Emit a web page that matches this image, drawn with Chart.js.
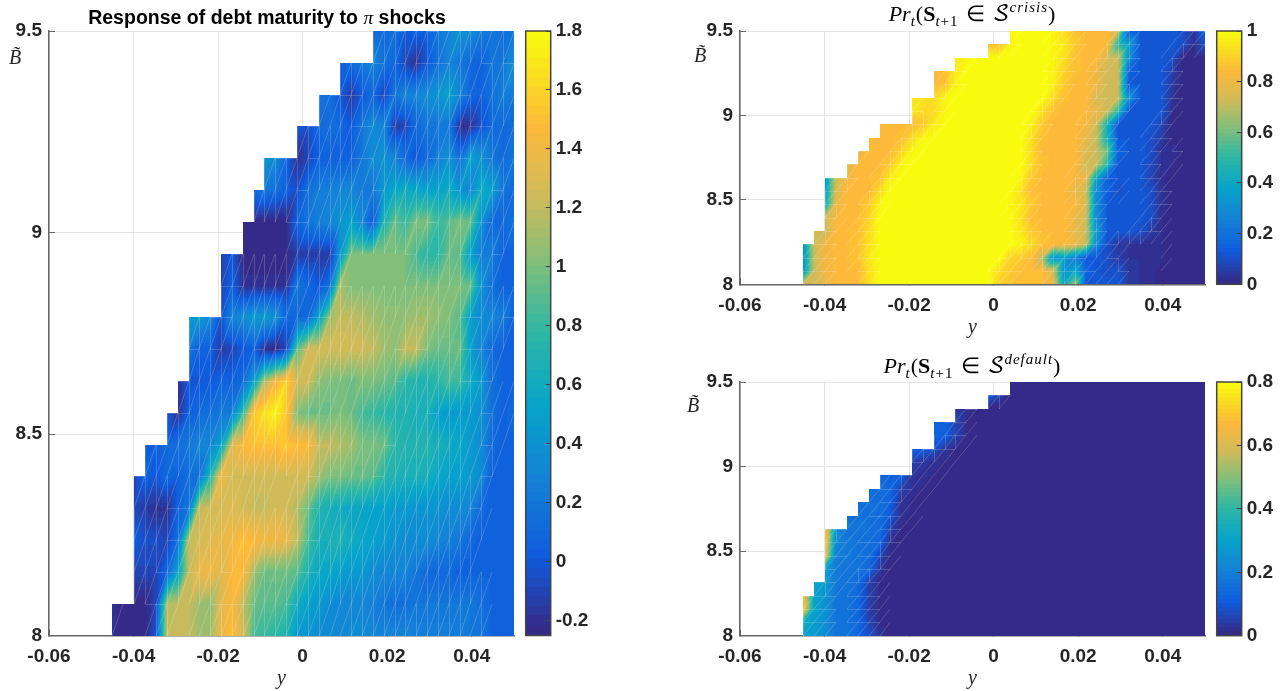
<!DOCTYPE html>
<html>
<head>
<meta charset="utf-8">
<script src="https://cdn.jsdelivr.net/npm/chart.js@4/dist/chart.umd.js"></script>
<style>
  html, body { margin: 0; background: #fff; }
  body { position: relative; width: 1287px; height: 691px; overflow: hidden; }
  canvas { position: absolute; }
  .txt { position: absolute; white-space: nowrap; color: #000; transform: translate(-50%, -50%); line-height: 1; }
  .math { font-family: "Liberation Serif", serif; font-size: 22px; word-spacing: 2px; }
  .math i { font-style: italic; }
  .math .scr { font-style: normal; font-family: "DejaVu Math TeX Gyre", "DejaVu Sans", serif; }
  .math sub, .math sup { font-size: 15px; line-height: 0; letter-spacing: 1px; }
  .bt { font-family: "Liberation Serif", serif; font-style: italic; font-size: 20px; color: #262626; }
</style>
</head>
<body>
<canvas id="heat1" style="left:0;top:0" width="520" height="691"></canvas>
<canvas id="bar1" style="left:515px;top:0" width="85" height="691"></canvas>
<canvas id="heat2" style="left:680px;top:0" width="530" height="340"></canvas>
<canvas id="bar2" style="left:1206px;top:0" width="81" height="340"></canvas>
<canvas id="heat3" style="left:680px;top:340px" width="530" height="351"></canvas>
<canvas id="bar3" style="left:1206px;top:340px" width="81" height="351"></canvas>

<div class="txt" style="left:267px;top:17px;font:bold 19.5px 'Liberation Sans',sans-serif">Response of debt maturity to <span style="font:italic 19.5px 'Liberation Serif',serif">π</span> shocks</div>
<div class="txt math" style="left:972px;top:14px"><i>Pr<sub>t</sub></i>(<b>S</b><sub><i>t</i>+1</sub> ∈ <span class="scr">𝒮</span><sup><i>crisis</i></sup>)</div>
<div class="txt math" style="left:972px;top:366px"><i>Pr<sub>t</sub></i>(<b>S</b><sub><i>t</i>+1</sub> ∈ <span class="scr">𝒮</span><sup><i>default</i></sup>)</div>
<div class="txt bt" style="left:15px;top:57px">B̃</div>
<div class="txt bt" style="left:700px;top:55px">B̃</div>
<div class="txt bt" style="left:693px;top:405px">B̃</div>

<script>
const xGrid = [-0.0450,-0.0424,-0.0399,-0.0373,-0.0347,-0.0322,-0.0296,-0.0270,-0.0245,-0.0219,-0.0193,-0.0168,-0.0142,-0.0116,-0.0091,-0.0065,-0.0039,-0.0014,0.0012,0.0038,0.0064,0.0089,0.0115,0.0141,0.0166,0.0192,0.0218,0.0243,0.0269,0.0295,0.0320,0.0346,0.0372,0.0397,0.0423,0.0449,0.0474,0.0500];
const yGrid = [8,8.0789,8.1579,8.2368,8.3158,8.3947,8.4737,8.5526,8.6316,8.7105,8.7895,8.8684,8.9474,9.0263,9.1053,9.1842,9.2632,9.3421,9.4211,9.5];

const xTicks = [-0.06,-0.04,-0.02,0,0.02,0.04];
const yTicks = [8,8.5,9,9.5];
const maturityTicks = [-0.2,0,0.2,0.4,0.6,0.8,1,1.2,1.4,1.6,1.8];
const crisisTicks = [0,0.2,0.4,0.6,0.8,1];
const defaultTicks = [0,0.2,0.4,0.6,0.8];

// first filled column of each row, bottom row first
const maturityStarts = [0,0,2,2,2,2,3,5,6,7,7,10,10,12,13,14,17,19,21,24];
const probStarts = [0,0,0,0,1,2,2,2,2,4,5,6,7,10,10,12,12,14,17,19];

// rows go bottom to top, each one begins at its start column
const maturityRows = [
  [-.2,-.25,-.25,-.25,0,1.2,1.2,1.2,1.1,1.1,1.35,1.5,1.25,.85,.8,.75,.7,.45,.4,.35,.35,.3,.35,.35,.3,.3,.3,.3,.25,.25,.25,.25,.25,.2,.2,.05,.05,.05],
  [-.2,-.25,-.25,-.25,-.1,1.15,1.2,1.2,1.1,1.05,1.3,1.45,1.2,.95,.9,.9,.85,.6,.5,.45,.35,.3,.3,.3,.25,.2,.15,.15,.2,.2,.2,.2,.2,.2,.15,.05,.05,.05],
  [-.1,-.1,-.1,.1,.5,1.2,1.35,1.4,1.3,1.45,1.45,1.1,.95,.95,.95,.9,.7,.55,.55,.5,.45,.45,.35,.3,.3,.3,.2,.1,.1,.1,.05,.05,.05,.05,.05,.05],
  [.05,-.05,-.05,-.1,.15,1.2,1.25,1.3,1.35,1.4,1.5,1.45,1.4,1.4,1.35,1.2,.85,.65,.65,.7,.6,.55,.5,.45,.4,.35,.35,.35,.3,.25,.2,.1,.05,.05,.05,.05],
  [-.1,-.15,-.2,-.2,.05,.2,1.2,1.25,1.25,1.3,1.25,1.2,1.2,1.25,1.25,1.15,.95,.7,.65,.6,.55,.55,.5,.5,.45,.45,.4,.4,.4,.35,.35,.3,.1,.05,.05,.05],
  [-.1,.05,0,.1,.05,.15,.15,.7,1.4,1.25,1.25,1.25,1.25,1.25,1.25,1.25,1.25,1.1,1,1,.95,.95,.9,.75,.7,.65,.65,.65,.55,.5,.5,.45,.35,.05,.05,.05],
  [0,.05,.1,.15,.2,.3,.3,.5,1.3,1.45,1.5,1.5,1.5,1.55,1.5,1.45,1.2,1.2,1.15,1.1,1,1,.95,.75,.7,.7,.7,.65,.6,.55,.45,.35,.1,.05,.05],
  [0,-.2,.05,.1,.15,.2,.25,.8,1.55,1.65,1.75,1.55,1,.95,.95,.95,1,.95,.85,.8,.75,.7,.7,.65,.65,.5,.45,.45,.45,.4,.15,.05,.1],
  [-.2,0,0,.02,.05,.05,.1,.5,1.1,1.4,1.6,1.25,1.25,1.05,1,1,.95,1,1,.95,.9,.75,.7,.7,.75,.85,.8,.6,.45,.15,.05,.05],
  [.2,.05,.05,-.15,-.1,0,.05,-.2,-.25,-.1,.9,1.25,1.25,1.25,1.25,1.25,1.25,1.2,1.1,1.05,1.2,1.2,1,.95,.95,.95,.5,.3,.1,.05,.05],
  [.45,.45,.35,-.05,.3,.35,.45,.45,.4,.1,.1,.1,.5,1.1,1.2,1.2,1.15,1.1,1.05,1.05,1.05,1.1,1.1,1.05,1,.9,.5,.35,.3,.25,.05],
  [-.1,.05,-.2,-.2,-.2,-.2,-.2,.2,.1,0,.15,1.15,1,1,1,1,1,1,1,1,1,1,1,.95,.4,.15,.05,.05],
  [-.1,0,-.25,-.25,-.25,-.25,-.25,-.15,-.15,-.15,-.15,.4,1,1,1,1,1,1,.85,.75,.75,.95,.9,.5,.25,.25,.05,.05],
  [-.25,-.25,-.25,-.25,-.25,.05,.2,.25,.3,.4,.5,.3,0,.7,.95,.8,1,1,.8,.9,1,.95,.4,.1,.1,.2],
  [.1,.2,.15,.05,-.05,.15,.25,.25,.3,.3,.2,.2,.45,.55,.6,.55,.5,.5,.6,.4,.3,.6,.5,.2,.1],
  [.45,.35,.1,-.2,-.1,.05,.05,.05,.05,.2,.35,.4,.3,.1,0,.1,.25,.4,.15,.5,.4,.2,.1,.2],
  [0,-.05,.1,.15,.1,0,.2,.35,.3,-.15,-.1,.1,.2,.2,.2,-.2,-.2,-.05,.1,.1,.15],
  [.2,.15,0,-.15,0,.1,-.1,.2,.3,.3,.35,.4,.5,.3,.1,.05,.15,.25,.2],
  [.05,.1,.2,.3,.15,.1,-.1,-.2,0,.15,.3,.2,.1,.05,.2,.2,.4],
  [.1,.1,.15,0,.05,.05,.2,.3,.4,.35,.25,.2,.15,.2]
];

const crisisRows = [
  [.72,.72,.78,.84,.84,.84,.93,1,1,1,1,1,1,1,1,1,1,1,.9,.86,.85,.85,.85,.78,.4,.65,.12,.12,.12,.12,.04,.03,.02,.01],
  [.3,.72,.8,.84,.84,.84,.93,1,1,1,1,1,1,1,1,1,1,1,.92,.88,.85,.85,.85,.75,.3,.4,.15,.12,.1,.1,.04,.03,.02,.01],
  [.3,.72,.8,.84,.84,.86,.95,1,1,1,1,1,1,1,1,1,1,1,1,.9,.88,.85,.7,.3,.35,.25,.12,.12,.1,.05,.03,.03,.02,.02],
  [.3,.72,.8,.84,.84,.86,.93,1,1,1,1,1,1,1,1,1,1,1,1,1,.98,.92,.86,.84,.84,.8,.72,.3,.1,.04,.03,.03,.02,.02],
  [.72,.72,.84,.84,.86,.92,1,1,1,1,1,1,1,1,1,1,1,1,1,.95,.88,.84,.84,.84,.78,.72,.35,.12,.12,.12,.1,.05,.02],
  [.72,.82,.84,.84,.9,1,1,1,1,1,1,1,1,1,1,1,1,1,.93,.85,.84,.84,.84,.8,.72,.3,.12,.12,.12,.12,.1,.02],
  [.4,.78,.84,.84,.88,.98,1,1,1,1,1,1,1,1,1,1,1,.98,.95,.88,.84,.84,.84,.83,.75,.3,.12,.12,.12,.12,.1,.03],
  [.35,.75,.84,.84,.84,.92,1,1,1,1,1,1,1,1,1,1,1,1,.93,.85,.84,.84,.84,.78,.72,.3,.15,.1,.12,.12,.1,.03],
  [.35,.72,.8,.84,.84,.86,.96,1,1,1,1,1,1,1,1,1,1,1,.98,.88,.84,.84,.84,.82,.78,.4,.15,.12,.12,.12,.07,.02],
  [.75,.84,.84,.84,.88,.97,1,1,1,1,1,1,1,1,1,1,1,.92,.85,.84,.84,.84,.72,.72,.5,.12,.12,.12,.08,.03,.02],
  [.75,.84,.84,.84,.9,.98,1,1,1,1,1,1,1,1,1,1,.92,.84,.84,.84,.83,.75,.72,.6,.15,.12,.12,.1,.03,.03],
  [.84,.84,.84,.85,.92,.98,1,1,1,1,1,1,1,1,1,.93,.85,.84,.84,.84,.78,.72,.45,.12,.12,.12,.1,.05],
  [.84,.84,.84,.85,.88,.95,1,1,1,1,1,1,1,1,.97,.88,.84,.84,.84,.8,.74,.45,.12,.12,.12,.12,.08],
  [.96,.92,.92,.98,1,1,1,1,1,1,1,1,.93,.85,.84,.84,.84,.78,.72,.5,.12,.12,.12,.12,.02],
  [.95,.93,.92,.98,1,1,1,1,1,1,1,1,1,.92,.85,.84,.84,.75,.72,.72,.3,.12,.12,.12,.03],
  [.84,.86,.97,1,1,1,1,1,1,1,1,.97,.88,.84,.84,.8,.72,.72,.12,.12,.12,.12,.05],
  [.84,.85,.95,1,1,1,1,1,1,1,1,.97,.9,.85,.84,.8,.72,.72,.15,.12,.12,.12,.06],
  [.97,.97,1,1,1,1,1,1,1,.98,.93,.85,.84,.84,.75,.72,.3,.12,.12,.12,.1],
  [.85,.85,.97,1,1,1,.98,.95,.88,.84,.84,.84,.5,.35,.12,.12,.12,.12,.1,.02,.1],
  [1,1,1,1,.98,.93,.85,.84,.84,.84,.72,.12,.12,.12,.12,.12,.1,.03,.15]
];

const defaultRows = [
  [.3,.28,.24,.17,.17,.13,.08,.02],
  [.35,.28,.24,.17,.17,.13,.06,.01],
  [.7,.3,.25,.17,.17,.13,.04],
  [.68,.3,.25,.17,.17,.13,.05,.01],
  [.3,.28,.18,.17,.14,.05,.01],
  [.3,.18,.17,.17,.14,.03],
  [.65,.2,.18,.17,.15,.06,.01],
  [.7,.22,.18,.17,.15,.13,.02],
  [.7,.25,.17,.17,.16,.15,.05,.01],
  [.15,.16,.16,.14,.1,.02,.01],
  [.15,.15,.15,.12,.02,.01],
  [.14,.15,.13,.05,.02,.01],
  [.12,.12,.12,.03,.02,.01],
  [.05,.03,.02,.01],
  [.11,.11,.08,.03,.01],
  [.12,.12,.06,.01],
  [.12,.12,.06,.01],
  [.03,.02],
  [.12,.05],
  []
];

const parulaStops = ["#352a87","#0f5cdd","#1481d6","#06a4ca","#2eb7a4","#87bf77","#d1bb59","#fdb83a","#f9fb0e"];
const stopAt = [0,.125,.25,.375,.5,.625,.73,.84,1];

const hex = (s) => [1,3,5].map((k) => parseInt(s.substr(k,2),16));
const parula = [];
for (let i = 0; i < 64; i++) {
  const t = i / 63;
  let k = 0;
  while (k < stopAt.length - 2 && t > stopAt[k+1]) k++;
  const f = (t - stopAt[k]) / (stopAt[k+1] - stopAt[k]);
  const a = hex(parulaStops[k]), b = hex(parulaStops[k+1]);
  parula.push(`rgb(${a.map((v,n) => Math.round(v + (b[n]-v)*f)).join(",")})`);
}

const tickFont = { family: "'Liberation Sans', sans-serif", weight: "bold", size: 19 };
const textColor = "#262626";

const node = (rows, starts, i, j) => {
  if (i < starts[j]) return null;
  const v = rows[j][i - starts[j]];
  return v === undefined ? 0 : v;
};

// draws the triangulated surface and the faint mesh through the chart's scales
const heatPlugin = {
  id: "heat",
  beforeDatasetsDraw(chart, args, o) {
    if (!o.rows) return;
    const { ctx, scales: { x, y } } = chart;
    const colorOf = (v) => {
      let k = Math.floor((v - o.min) / (o.max - o.min) * 64);
      return parula[Math.max(0, Math.min(63, k))];
    };
    const cells = [];
    for (let j = 0; j < yGrid.length - 1; j++) {
      for (let i = 0; i < xGrid.length - 1; i++) {
        const a = node(o.rows, o.starts, i, j), b = node(o.rows, o.starts, i+1, j);
        const c = node(o.rows, o.starts, i+1, j+1), d = node(o.rows, o.starts, i, j+1);
        if (a === null || b === null || c === null || d === null) continue;
        const x0 = Math.round(x.getPixelForValue(xGrid[i])), x1 = Math.round(x.getPixelForValue(xGrid[i+1]));
        const y0 = Math.round(y.getPixelForValue(yGrid[j])), y1 = Math.round(y.getPixelForValue(yGrid[j+1]));
        cells.push({ a, b, c, d, x0, x1, y0, y1 });
        for (let px = x0; px < x1; px++) {
          for (let py = y1; py < y0; py++) {
            const u = (px + .5 - x0) / (x1 - x0), w = (y0 - py - .5) / (y0 - y1);
            const v = w < u ? a + u*(b-a) + w*(c-b) : a + u*(c-d) + w*(d-a);
            ctx.fillStyle = colorOf(v);
            ctx.fillRect(px, py, 1, 1);
          }
        }
      }
    }
    const limit = o.flat * (o.max - o.min);
    ctx.save();
    ctx.strokeStyle = "rgba(255,255,255,.26)";
    ctx.lineWidth = .7;
    ctx.beginPath();
    cells.forEach((q) => {
      const spread = Math.max(q.a, q.b, q.c, q.d) - Math.min(q.a, q.b, q.c, q.d);
      if (spread <= limit) return;
      ctx.moveTo(q.x0, q.y0); ctx.lineTo(q.x1, q.y1);
      if (Math.abs(q.a - q.d) > limit * o.vert) { ctx.moveTo(q.x0 + .5, q.y0); ctx.lineTo(q.x0 + .5, q.y1); }
      if (Math.abs(q.d - q.c) > limit * o.horiz) { ctx.moveTo(q.x0, q.y1 + .5); ctx.lineTo(q.x1, q.y1 + .5); }
    });
    ctx.stroke();
    ctx.restore();
  }
};

const boxPlugin = {
  id: "box",
  afterDraw(chart, args, o) {
    if (!o.on) return;
    const { ctx, chartArea: a } = chart;
    ctx.save();
    ctx.strokeStyle = "#444";
    ctx.lineWidth = 1.5;
    ctx.strokeRect(a.left, a.top, a.right - a.left, a.bottom - a.top);
    ctx.restore();
  }
};

function heatChart(id, rows, starts, min, max, yWidth, xHeight, top, right, o) {
  const points = [];
  rows.forEach((r, j) => xGrid.forEach((xv, i) => {
    const v = node(rows, starts, i, j);
    if (v !== null) points.push({ x: xv, y: yGrid[j], v });
  }));
  return new Chart(document.getElementById(id), {
    type: "scatter",
    data: { datasets: [{ data: points, pointRadius: 0 }] },
    plugins: [heatPlugin],
    options: {
      responsive: false,
      animation: false,
      events: [],
      layout: { padding: { top, right, left: 0, bottom: 0 } },
      plugins: {
        legend: { display: false },
        tooltip: { enabled: false },
        heat: { rows, starts, min, max, ...o }
      },
      scales: {
        x: {
          type: "linear", min: -0.06, max: 0.05,
          afterBuildTicks: (s) => { s.ticks = xTicks.map((value) => ({ value })); },
          afterFit: (s) => { s.height = xHeight; },
          grid: { color: "#e4e4e4", lineWidth: 1, tickLength: -6, tickColor: "#666" },
          border: { color: "#666", width: 1.5 },
          ticks: { font: tickFont, color: textColor, padding: 16, maxRotation: 0, autoSkip: false, callback: (v) => String(v) },
          title: { display: true, text: "y", color: textColor, padding: 0, font: { family: "'Liberation Serif', serif", style: "italic", size: 20 } }
        },
        y: {
          type: "linear", min: 8, max: 9.5,
          afterBuildTicks: (s) => { s.ticks = yTicks.map((value) => ({ value })); },
          afterFit: (s) => { s.width = yWidth; },
          grid: { color: "#e4e4e4", lineWidth: 1, tickLength: -6, tickColor: "#666" },
          border: { color: "#666", width: 1.5 },
          ticks: { font: tickFont, color: textColor, padding: 13, autoSkip: false, callback: (v) => String(v) }
        }
      }
    }
  });
}

function colorBar(id, ticks, min, max, left, top, xHeightBottom) {
  const span = (max - min) / 64;
  return new Chart(document.getElementById(id), {
    type: "bar",
    data: {
      labels: ["c"],
      datasets: parula.map((c, i) => ({
        data: [[min + i*span, min + (i+1.1)*span]],
        backgroundColor: c, grouped: false, barPercentage: 1, categoryPercentage: 1, borderWidth: 0
      }))
    },
    plugins: [boxPlugin],
    options: {
      responsive: false,
      animation: false,
      events: [],
      layout: { padding: { left, top, bottom: xHeightBottom, right: 0 } },
      plugins: { legend: { display: false }, tooltip: { enabled: false }, box: { on: true } },
      scales: {
        x: { display: false },
        y: {
          position: "right", min, max,
          afterBuildTicks: (s) => { s.ticks = ticks.map((value) => ({ value })); },
          afterFit: (s) => { s.width = document.getElementById(id).width - left - 25; },
          grid: { drawOnChartArea: false, z: 1, tickLength: -5, tickColor: "#444" },
          border: { display: false },
          ticks: { font: tickFont, color: textColor, padding: 10, autoSkip: false, callback: (v) => String(v) }
        }
      }
    }
  });
}

heatChart("heat1", maturityRows, maturityStarts, -0.25, 1.8, 49, 55.5, 31, 6, { flat: .012, vert: .4, horiz: 6 });
heatChart("heat2", crisisRows, probStarts, 0, 1, 60, 55.7, 31, 5, { flat: .012, vert: 3, horiz: 2 });
heatChart("heat3", defaultRows, probStarts, 0, 0.8, 60, 55.3, 42, 5, { flat: .012, vert: 3, horiz: 2 });
colorBar("bar1", maturityTicks, -0.25, 1.8, 10.7, 31, 55.5);
colorBar("bar2", crisisTicks, 0, 1, 10.7, 31, 55.7);
colorBar("bar3", defaultTicks, 0, 0.8, 10.7, 42, 55.3);
</script>
</body>
</html>
